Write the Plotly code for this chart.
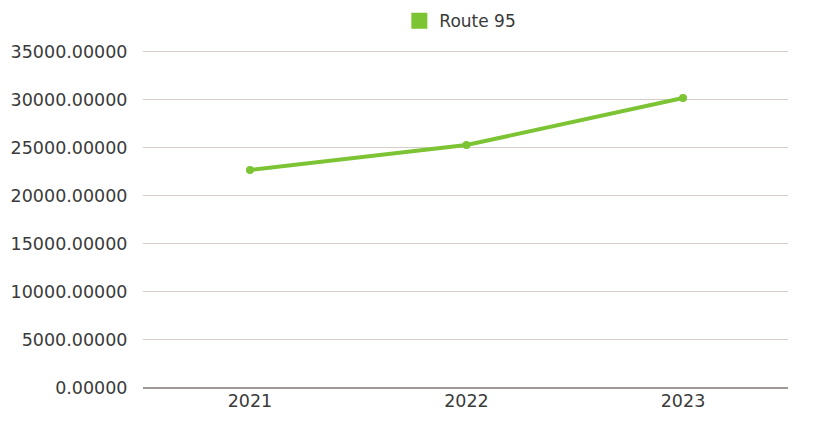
import plotly.graph_objects as go

years = ["2021", "2022", "2023"]
route_95 = [22700, 25300, 30200]
series_name = "Route 95"

GREEN = "#7cc433"

fig = go.Figure()

# main line
fig.add_trace(go.Scatter(
    x=years,
    y=route_95,
    mode="lines+markers",
    line=dict(color=GREEN, width=4),
    marker=dict(color=GREEN, size=8),
    showlegend=False,
))

# square legend swatch
fig.add_trace(go.Scatter(
    x=[None],
    y=[None],
    mode="markers",
    name=series_name,
    marker=dict(color=GREEN, size=20, symbol="square"),
))

fig.update_layout(
    width=807,
    height=415,
    margin=dict(l=135, r=27, t=42, b=35, autoexpand=False),
    plot_bgcolor="white",
    paper_bgcolor="white",
    font=dict(family="DejaVu Sans, sans-serif", size=17.5, color="#3a3a3a"),
    legend=dict(
        orientation="h",
        x=0.492,
        xanchor="center",
        y=1.085,
        yanchor="middle",
        font=dict(size=17, color="#3a3a3a"),
    ),
    xaxis=dict(
        type="category",
        range=[-0.494, 2.485],
        showgrid=False,
        ticks="",
        showline=False,
        zeroline=False,
        automargin=False,
    ),
    yaxis=dict(
        range=[0, 35200],
        tickvals=[0, 5000, 10000, 15000, 20000, 25000, 30000, 35000],
        tickformat=".5f",
        showgrid=True,
        gridcolor="#d3ccc9",
        gridwidth=1,
        ticks="outside",
        ticklen=11,
        tickcolor="rgba(0,0,0,0)",
        zeroline=True,
        zerolinecolor="#9e9896",
        zerolinewidth=1.5,
        showline=False,
        automargin=False,
    ),
)

fig.write_html("out.html")
